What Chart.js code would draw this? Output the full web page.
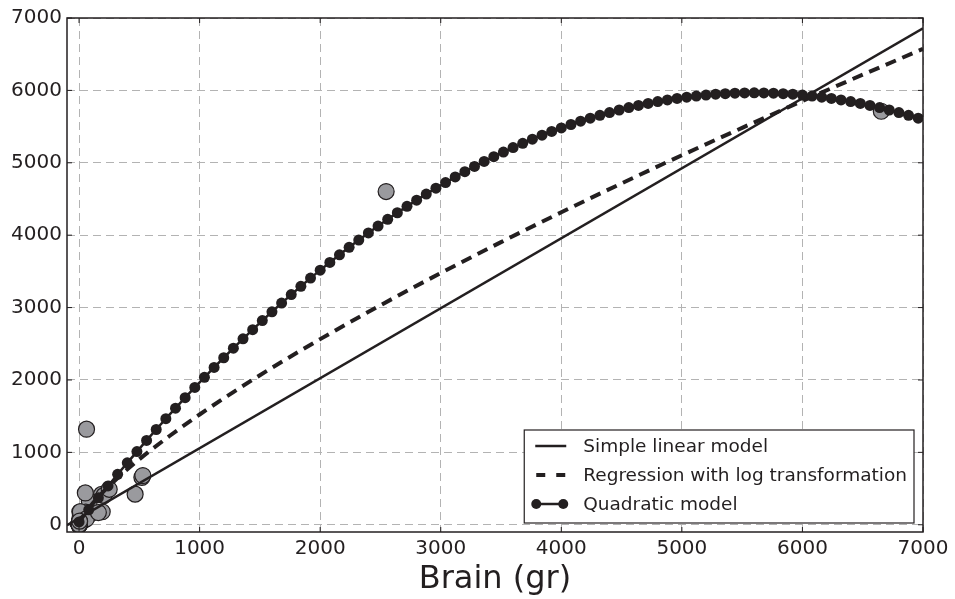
<!DOCTYPE html>
<html>
<head>
<meta charset="utf-8">
<script src="https://cdn.jsdelivr.net/npm/chart.js@4.4.1/dist/chart.umd.min.js"></script>
<style>
  html, body { margin: 0; padding: 0; background: #fff; }
  #wrap { width: 955px; height: 599px; }
</style>
</head>
<body>
<div id="wrap"><canvas id="brainChart"></canvas></div>
<script>
// mammals: body weight and brain weight
let bodyWeights = [3.385, 0.48, 1.35, 465, 36.33, 27.66, 14.83, 1.04, 4.19, 0.425, 0.101, 0.92, 1, 0.005, 0.06,
  3.5, 2, 1.7, 2547, 0.023, 187.1, 521, 0.785, 10, 3.3, 0.2, 1.41, 529, 207, 85, 0.75, 62, 6654, 3.5, 6.8, 35,
  4.05, 0.12, 0.023, 0.01, 1.4, 250, 2.5, 55.5, 100, 52.16, 10.55, 0.55, 60, 3.6, 4.288, 0.28, 0.075, 0.122,
  0.048, 192, 3, 160, 0.9, 1.62, 0.104, 4.235];
let brainWeights = [44.5, 15.5, 8.1, 423, 119.5, 115, 98.2, 5.5, 58, 6.4, 4, 5.7, 6.6, 0.14, 1,
  10.8, 12.3, 6.3, 4603, 0.3, 419, 655, 3.5, 115, 25.6, 5, 17.5, 680, 406, 325, 12.3, 1320, 5712, 3.9, 179, 56,
  17, 1, 0.4, 0.25, 12.5, 490, 12.1, 175, 157, 440, 179.5, 2.4, 81, 21, 39.2, 1.9, 1.2, 3,
  0.33, 180, 25, 169, 2.6, 11.4, 2.5, 50.4];

// simple linear model (straight line, two ends)
let linearX = [-100, 7000];
let linearY = [-6, 6856];

// log-log regression, back transformed
let logX = [0, 20, 50, 100, 200, 300, 500, 750, 1000, 1500, 2000, 2500, 3000, 3500, 4000, 4500, 5000, 5500, 6000, 6500, 7000];
let logY = [0, 80, 160, 270, 454, 616, 905, 1226, 1523, 2066, 2564, 3032, 3477, 3904, 4316, 4716, 5104, 5483, 5854, 6217, 6573];

// quadratic model
let quadX = [0, 80, 160, 240, 320, 400, 480, 560, 640, 720, 800, 880, 960, 1040, 1120, 1200, 1280, 1360, 1440, 1520,
  1600, 1680, 1760, 1840, 1920, 2000, 2080, 2160, 2240, 2320, 2400, 2480, 2560, 2640, 2720, 2800, 2880, 2960, 3040,
  3120, 3200, 3280, 3360, 3440, 3520, 3600, 3680, 3760, 3840, 3920, 4000, 4080, 4160, 4240, 4320, 4400, 4480, 4560,
  4640, 4720, 4800, 4880, 4960, 5040, 5120, 5200, 5280, 5360, 5440, 5520, 5600, 5680, 5760, 5840, 5920, 6000, 6080,
  6160, 6240, 6320, 6400, 6480, 6560, 6640, 6720, 6800, 6880, 6960];
let quadY = [39, 207, 373, 536, 697, 855, 1011, 1165, 1316, 1465, 1611, 1755, 1897, 2036, 2173, 2307, 2439, 2568, 2695, 2820,
  2942, 3062, 3179, 3294, 3407, 3517, 3624, 3729, 3832, 3933, 4031, 4126, 4219, 4310, 4398, 4484, 4568, 4649, 4727,
  4804, 4877, 4949, 5018, 5084, 5148, 5210, 5269, 5326, 5381, 5433, 5482, 5529, 5574, 5616, 5656, 5694, 5729, 5762,
  5792, 5820, 5845, 5868, 5889, 5907, 5922, 5936, 5947, 5955, 5961, 5965, 5966, 5965, 5961, 5955, 5947, 5936, 5922,
  5907, 5889, 5868, 5845, 5820, 5792, 5762, 5729, 5694, 5656, 5616];

let xTicks = [0, 1000, 2000, 3000, 4000, 5000, 6000, 7000];
let yTicks = [0, 1000, 2000, 3000, 4000, 5000, 6000, 7000];

let seriesNames = ['Simple linear model', 'Regression with log transformation', 'Quadratic model'];
let axisTitle = 'Brain (gr)';

const ink = '#231f20';
const pairs = (xs, ys) => xs.map((x, i) => ({ x: x, y: ys[i] }));

// frame, inward tick marks and the boxed legend
const framePlugin = {
  id: 'frame',
  afterDraw(chart) {
    const ctx = chart.ctx;
    const a = chart.chartArea;
    const sx = chart.scales.x, sy = chart.scales.y;
    ctx.save();
    ctx.strokeStyle = ink;
    ctx.lineWidth = 1.5;
    ctx.strokeRect(a.left, a.top, a.right - a.left, a.bottom - a.top);

    ctx.lineWidth = 1;
    sx.ticks.forEach(t => {
      const px = sx.getPixelForValue(t.value);
      ctx.beginPath();
      ctx.moveTo(px, a.bottom); ctx.lineTo(px, a.bottom - 5);
      ctx.moveTo(px, a.top); ctx.lineTo(px, a.top + 5);
      ctx.stroke();
    });
    sy.ticks.forEach(t => {
      const py = sy.getPixelForValue(t.value);
      ctx.beginPath();
      ctx.moveTo(a.left, py); ctx.lineTo(a.left + 5, py);
      ctx.moveTo(a.right, py); ctx.lineTo(a.right - 5, py);
      ctx.stroke();
    });

    // legend
    ctx.font = '18.5px "DejaVu Sans"';
    const textW = Math.max(...seriesNames.map(s => ctx.measureText(s).width));
    const boxW = 59 + textW + 7;
    const boxH = 93;
    const bx = a.right - 9 - boxW;
    const by = a.bottom - 9 - boxH;
    ctx.fillStyle = '#fff';
    ctx.fillRect(bx, by, boxW, boxH);
    ctx.strokeStyle = ink;
    ctx.lineWidth = 1.2;
    ctx.strokeRect(bx, by, boxW, boxH);

    seriesNames.forEach((name, i) => {
      const ry = by + 16 + i * 29;
      ctx.strokeStyle = ink;
      ctx.fillStyle = ink;
      ctx.beginPath();
      if (i === 0) {
        ctx.lineWidth = 2.5;
        ctx.setLineDash([]);
        ctx.moveTo(bx + 11, ry); ctx.lineTo(bx + 42, ry);
        ctx.stroke();
      } else if (i === 1) {
        ctx.lineWidth = 4;
        ctx.setLineDash([9, 11]);
        ctx.moveTo(bx + 12, ry); ctx.lineTo(bx + 42, ry);
        ctx.stroke();
        ctx.setLineDash([]);
      } else {
        ctx.lineWidth = 2.5;
        ctx.moveTo(bx + 12, ry); ctx.lineTo(bx + 39, ry);
        ctx.stroke();
        [bx + 12, bx + 39].forEach(cx => {
          ctx.beginPath();
          ctx.arc(cx, ry, 5, 0, Math.PI * 2);
          ctx.fill();
        });
      }
      ctx.fillStyle = ink;
      ctx.textBaseline = 'middle';
      ctx.textAlign = 'left';
      ctx.fillText(name, bx + 59, ry + 1);
    });
    ctx.restore();
  }
};

const tickFont = { family: 'DejaVu Sans', size: 20 };

let ctx = document.getElementById('brainChart').getContext('2d');
let brainChart = new Chart(ctx, {
  type: 'scatter',
  data: {
    datasets: [
      {
        label: 'mammals',
        data: pairs(bodyWeights, brainWeights),
        showLine: false,
        pointRadius: 8,
        pointBackgroundColor: '#9a9a9e',
        pointBorderColor: ink,
        pointBorderWidth: 1.2,
        order: 4
      },
      {
        label: seriesNames[0],
        data: pairs(linearX, linearY),
        showLine: true,
        borderColor: ink,
        borderWidth: 2.5,
        pointRadius: 0,
        order: 3
      },
      {
        label: seriesNames[1],
        data: pairs(logX, logY),
        showLine: true,
        borderColor: ink,
        borderWidth: 4,
        borderDash: [11, 7],
        cubicInterpolationMode: 'monotone',
        pointRadius: 0,
        order: 2
      },
      {
        label: seriesNames[2],
        data: pairs(quadX, quadY),
        showLine: true,
        borderColor: ink,
        borderWidth: 2.5,
        pointRadius: 5.5,
        pointBackgroundColor: ink,
        pointBorderColor: ink,
        pointBorderWidth: 0,
        order: 1
      }
    ]
  },
  options: {
    animation: false,
    responsive: true,
    maintainAspectRatio: false,
    layout: {
      padding: { left: 0, right: 32, top: 18, bottom: 0 }
    },
    plugins: {
      legend: { display: false },
      tooltip: { enabled: false }
    },
    scales: {
      x: {
        type: 'linear',
        min: -100,
        max: 7000,
        afterFit(scale) { scale.height = 67; },
        afterBuildTicks(scale) { scale.ticks = xTicks.map(v => ({ value: v })); },
        ticks: {
          padding: 5,
          color: ink,
          font: tickFont,
          maxRotation: 0,
          autoSkip: false,
          callback: v => String(v)
        },
        grid: {
          color: '#b3b3b3',
          lineWidth: 1,
          drawTicks: false
        },
        border: { display: false, dash: [8, 5] },
        title: {
          display: true,
          text: axisTitle,
          color: ink,
          font: { family: 'DejaVu Sans', size: 32 },
          padding: { top: 0, bottom: 0 }
        }
      },
      y: {
        type: 'linear',
        min: -100,
        max: 7000,
        afterFit(scale) { scale.width = 67; },
        afterBuildTicks(scale) { scale.ticks = yTicks.map(v => ({ value: v })); },
        ticks: {
          padding: 5,
          color: ink,
          font: tickFont,
          autoSkip: false,
          callback: v => String(v)
        },
        grid: {
          color: '#b3b3b3',
          lineWidth: 1,
          drawTicks: false
        },
        border: { display: false, dash: [8, 5] }
      }
    }
  },
  plugins: [framePlugin]
});
</script>
</body>
</html>
